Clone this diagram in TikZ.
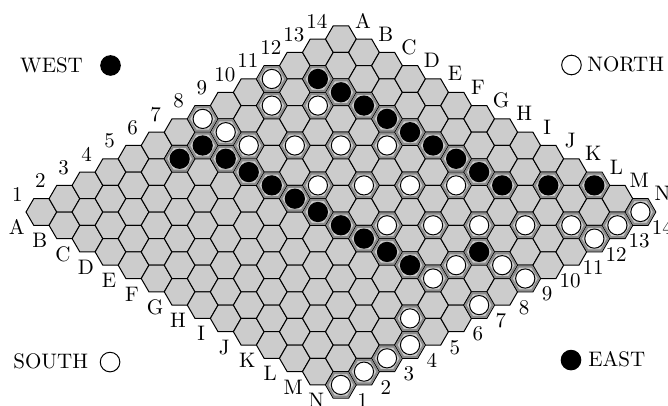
\documentclass[tikz,border=0pt]{standalone}
\usetikzlibrary{calc}
\begin{document}
\begin{tikzpicture}[x=7.68pt,y=7.68pt,
  hexcell/.style={fill=gray!40, draw=black, line width=0.5pt},
  band/.style={draw=black!45, line width=1pt},
  bstone/.style={circle, fill=black, draw=black, line width=0.5pt, inner sep=0pt, minimum size=9.6pt},
  wstone/.style={circle, fill=white, draw=black, line width=0.5pt, inner sep=0pt, minimum size=9.6pt},
  lstoneb/.style={circle, fill=black, draw=black, line width=0.5pt, inner sep=0pt, minimum size=9.8pt},
  lstonew/.style={circle, fill=white, draw=black, line width=0.5pt, inner sep=0pt, minimum size=9.8pt},
  lab/.style={font=\fontsize{10.5}{12}\selectfont, inner sep=0pt}]
\useasboundingbox (-2.695,-12.630) rectangle (40.794,13.802);
% cell centres
\foreach \a in {0,...,13}{
  \foreach \n in {0,...,13}{
    \coordinate (c-\a-\n) at ({1.5*(\a+\n)},{0.8660254*(\n-\a)});
  }
}
% board
\foreach \a in {0,...,13}{
  \foreach \n in {0,...,13}{
    \draw[hexcell] (c-\a-\n) +(0:1) -- +(60:1) -- +(120:1) -- +(180:1) -- +(240:1) -- +(300:1) -- cycle;
  }
}
% black stones
\foreach \a/\n in {1/11,2/11,3/11,4/11,5/11,6/11,7/11,8/11,9/11,10/12,11/13,
                   1/5,1/6,2/6,3/6,4/6,5/6,6/6,7/6,8/6,9/6,10/6,11/8}{
  \draw[band] (c-\a-\n) +(0:0.887) -- +(60:0.887) -- +(120:0.887) -- +(180:0.887) -- +(240:0.887) -- +(300:0.887) -- cycle;
  \node[bstone] (b-\a-\n) at (c-\a-\n) {};
}
% white stones
\foreach \a/\n in {0/10,1/9,2/10,0/7,1/7,2/7,3/8,4/9,5/10,5/7,6/8,7/9,8/10,8/7,9/8,10/9,
                   11/10,12/11,13/12,13/11,13/13,12/8,13/8,11/7,11/6,13/6,12/4,13/3,13/2,13/1,13/0}{
  \draw[band] (c-\a-\n) +(0:0.887) -- +(60:0.887) -- +(120:0.887) -- +(180:0.887) -- +(240:0.887) -- +(300:0.887) -- cycle;
  \node[wstone] (w-\a-\n) at (c-\a-\n) {};
}
% edge labels
\foreach \n in {1,...,14}{
  \pgfmathtruncatemacro\m{\n-1}
  \node[lab] (tl-\n) at ($(c-0-\m)+(-1.56,1.17)$) {\n};
  \node[lab] (br-\n) at ($(c-13-\m)+(1.42,-1.02)$) {\n};
}
\foreach \a/\L in {0/A,1/B,2/C,3/D,4/E,5/F,6/G,7/H,8/I,9/J,10/K,11/L,12/M,13/N}{
  \node[lab] (tr-\L) at ($(c-\a-13)+(1.43,1.2)$) {\L};
  \node[lab] (bl-\L) at ($(c-\a-0)+(-1.6,-1.0)$) {\L};
}
% legend
\node[lab, anchor=base] (west) at (0.66,9.07) {WEST};
\node[lstoneb] (westst) at (4.50,9.54) {};
\node[lstonew] (northst) at (34.51,9.57) {};
\node[lab, anchor=base west] (north) at (35.52,9.13) {NORTH};
\node[lab, anchor=base west] (south) at (-1.85,-10.18) {SOUTH};
\node[lstonew] (southst) at (4.47,-9.77) {};
\node[lstoneb] (eastst) at (34.48,-9.64) {};
\node[lab, anchor=base west] (east) at (35.58,-10.09) {EAST};
\end{tikzpicture}
\end{document}
